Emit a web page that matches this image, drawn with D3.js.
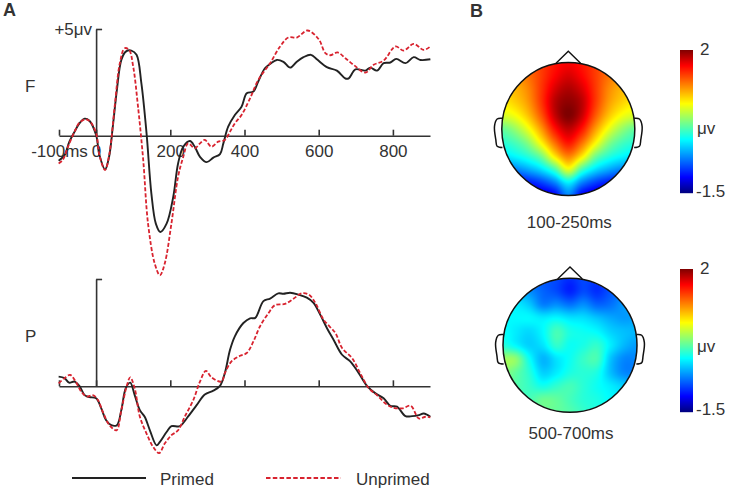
<!DOCTYPE html>
<html><head><meta charset="utf-8">
<script src="https://cdnjs.cloudflare.com/ajax/libs/d3/7.8.5/d3.min.js"></script>
<style>html,body{margin:0;background:#fff}svg{display:block}text{font-family:"Liberation Sans",Arial,sans-serif;fill:#333}</style>
</head><body><svg id="c" width="729" height="492"></svg>
<script>
const fPrimedT=[-101,-85,-72,-58,-45,-31,-18,0,9,24,35,45,56,68,80,95,109,122,136,149,161,173,190,208,221,235,253,266,280,298,316,334,343,356,374,392,406,424,437,455,469,487,505,523,541,559,579,595,622,649,672,681,699,726,739,757,775,793,809,834,856,874,901];
const fPrimedV=[-1.17,-.91,-.28,.19,.58,.8,.7,.03,-.91,-1.58,-.99,.42,2.14,3.55,3.94,3.99,3.79,2.46,.11,-2.71,-4.12,-4.51,-4.12,-2.86,-1.3,-.52,-.25,-.52,-.99,-1.24,-1.03,-.86,-.36,.42,.97,1.36,1.99,2.07,2.54,3.16,3.36,3.55,3.46,3.19,3.47,3.68,3.79,3.58,3.21,3.05,2.68,2.69,3.11,3.05,3.19,3.05,3.4,3.43,3.6,3.4,3.68,3.55,3.58];
const fUnprimedT=[-101,-90,-76,-58,-45,-28,-16,0,9,24,36,50,64,77,89,100,113,127,140,158,172,185,203,221,235,248,266,280,293,311,329,347,361,374,392,415,437,469,496,518,541,570,600,618,631,651,672,694,726,748,775,807,829,856,883,901];
const fUnprimedV=[-1.3,-1.14,-.52,.19,.61,.77,.66,.11,-.91,-1.61,-.83,1.36,3.4,4.1,4.02,3.24,1.36,-1.14,-4.12,-5.99,-6.54,-5.99,-4.12,-1.92,-.99,-.36,-.59,-.36,-.2,-.52,-.28,-.2,.19,.58,.97,1.75,2.61,3.4,4.18,4.6,4.6,4.93,4.52,3.87,3.77,3.9,3.63,3.32,2.96,3.32,3.52,4.18,3.99,4.3,4.02,4.18];
const pPrimedT=[-101,-85,-73,-58,-45,-31,-18,0,14,27,41,56,68,80,92,104,118,131,145,163,172,190,203,226,244,271,293,316,334,347,361,374,397,415,429,451,469,491,505,523,546,568,586,604,622,640,663,685,708,730,753,775,793,811,834,852,870,883,901];
const pPrimedV=[.45,.38,.17,.22,.02,-.41,-.5,-.56,-1.03,-1.58,-1.81,-1.81,-1.11,-.09,.17,-.41,-1.11,-1.42,-2.05,-2.75,-2.59,-2.13,-1.86,-1.86,-1.5,-.88,-.38,-.2,.02,.61,1.7,2.33,2.95,3.17,3.19,3.97,4.09,4.33,4.31,4.36,4.27,4.13,3.89,3.34,2.72,2.17,1.47,1.16,.61,.02,-.33,-.56,-.91,-.95,-1.39,-1.39,-1.34,-1.27,-1.42];
const pUnprimedT=[-101,-85,-70,-55,-40,-25,-9,5,18,36,55,68,82,92,104,118,136,154,170,185,203,221,239,262,280,296,311,338,347,365,388,406,424,442,465,482,509,532,554,573,591,613,645,663,690,712,735,757,780,798,825,848,870,888,901];
const pUnprimedV=[.14,.38,.53,.22,-.25,-.48,-.41,-.64,-1.19,-1.81,-2.05,-1.11,-.02,.42,-.09,-1.42,-2.2,-2.83,-3.11,-2.67,-2.28,-2.05,-1.42,-.64,.22,.72,.42,.22,.61,1.16,1.42,1.55,2.09,2.8,3.42,3.78,3.84,4.08,4.33,4.28,3.89,3.11,2.48,1.78,1.31,.61,-.09,-.41,-.8,-.98,-1.03,-.91,-1.5,-1.42,-1.45];
const xTicks=[-100,0,200,400,600,800];
const xTickLabels=["-100ms","0","200","400","600","800"];
const legendLabels=["Primed","Unprimed"];
const jetStops=[0,.11,.375,.625,.89,1];
const jetColors=["#00007f","#0000ff","#00ffff","#ffff00","#ff0000","#7f0000"];
const mapEarly=[
[1.1,1.15,1.25,1.4,1.55,1.62,1.55,1.4,1.25,1.15,1.1],
[1.0,1.05,1.2,1.4,1.6,1.72,1.6,1.4,1.2,1.05,1.0],
[.9,.95,1.12,1.42,1.72,1.85,1.72,1.42,1.12,.95,.9],
[.75,.85,1.05,1.42,1.82,1.95,1.82,1.42,1.05,.85,.75],
[.55,.65,.9,1.3,1.78,2.0,1.78,1.3,.9,.65,.55],
[.15,.32,.62,1.05,1.55,1.8,1.55,1.05,.62,.32,.15],
[-.05,.05,.28,.72,1.22,1.55,1.22,.72,.28,.05,-.05],
[-.3,-.2,-.05,.22,.78,1.15,.78,.22,-.05,-.2,-.3],
[-.75,-.65,-.5,-.3,.05,.6,.05,-.3,-.5,-.65,-.75],
[-1.15,-1.15,-1.05,-.9,-.65,-.25,-.65,-.9,-1.05,-1.15,-1.15],
[-1.35,-1.35,-1.35,-1.3,-1.15,-.65,-1.15,-1.3,-1.35,-1.35,-1.35]];
const mapLate=[
[-.7,-.7,-.75,-.8,-.85,-.95,-.85,-.9,-.8,-.7,-.7],
[-.4,-.45,-.6,-.75,-.85,-1.0,-.85,-.95,-.8,-.65,-.55],
[-.2,-.25,-.38,-.65,-.6,-.7,-.6,-.75,-.7,-.55,-.5],
[-.2,-.2,-.2,-.25,-.2,-.28,-.3,-.4,-.5,-.55,-.5],
[-.15,-.25,-.32,-.2,.05,-.1,-.15,-.2,-.35,-.42,-.45],
[-.05,-.2,-.35,-.28,-.02,-.15,-.1,-.02,-.25,-.45,-.55],
[.35,.3,-.15,-.45,-.28,-.15,.0,.05,-.4,-.62,-.62],
[.3,.15,-.05,-.35,-.25,-.1,-.05,-.1,-.42,-.62,-.62],
[.2,.1,.0,-.12,-.02,.05,-.05,-.15,-.25,-.35,-.4],
[.1,.05,.05,.18,.15,.05,-.05,-.1,-.2,-.25,-.3],
[.05,.05,.05,.15,.15,.1,.0,-.1,-.15,-.2,-.2]];

const svg=d3.select("#c");
const BLACK="#222",RED="#d8232f",AX="#333",FS=17;
const x=d3.scaleLinear().domain([-100,900]).range([59,430]);
const line=(y)=>d3.line().x(d=>x(d[0])).y(d=>y(d[1])).curve(d3.curveCatmullRom.alpha(.5));
function clipT(t,v){return d3.zip(t,v);}

function panel(y0,y5,prT,prV,unT,unV,withLabels,topLabel){
  const y=d3.scaleLinear().domain([0,5]).range([y0,y5]);
  const g=svg.append("g");
  const ax=g.append("g").attr("transform",`translate(0,${y0})`)
    .call(d3.axisBottom(x).tickValues(xTicks).tickSizeInner(-6).tickSizeOuter(0)
      .tickFormat((d,i)=>withLabels?xTickLabels[i]:""));
  ax.selectAll("text").attr("font-size",FS).attr("y",21).attr("dy",0).style("font-family",'"Liberation Sans"');
  const ay=g.append("g").attr("transform",`translate(${x(0)},0)`)
    .call(d3.axisLeft(y).tickValues([5]).tickSizeInner(-6).tickSizeOuter(0).tickPadding(4).tickFormat(()=>topLabel));
  ay.selectAll("text").attr("font-size",FS).attr("x",-4).attr("dy",".33em").style("font-family",'"Liberation Sans"');
  g.selectAll(".domain,.tick line").attr("stroke",AX).attr("stroke-width",1.6);
  g.append("path").attr("d",line(y)(clipT(prT,prV))).attr("fill","none").attr("stroke",BLACK).attr("stroke-width",1.9);
  g.append("path").attr("d",line(y)(clipT(unT,unV))).attr("fill","none").attr("stroke",RED).attr("stroke-width",1.8).attr("stroke-dasharray","4,2");
}
panel(135.7,29,fPrimedT,fPrimedV,fUnprimedT,fUnprimedV,true,"+5μv");
panel(386.3,279,pPrimedT,pPrimedV,pUnprimedT,pUnprimedV,false,"");

const label=(t,px,py,o={})=>svg.append("text").text(t).attr("x",px).attr("y",py).attr("font-size",o.fs||FS)
  .attr("text-anchor",o.anchor||"start").attr("font-weight",o.bold?"bold":"normal");
label("A",3,16,{bold:1,fs:18});
label("B",470,16.5,{bold:1,fs:18});
label("F",25,92);
label("P",25,342);

svg.append("line").attr("x1",72).attr("x2",146).attr("y1",478).attr("y2",478).attr("stroke",BLACK).attr("stroke-width",1.9);
svg.append("line").attr("x1",266).attr("x2",341).attr("y1",478).attr("y2",478).attr("stroke",RED).attr("stroke-width",1.8).attr("stroke-dasharray","4.5,2.3");
label(legendLabels[0],160,485);
label(legendLabels[1],356,485);

const jet=d3.scaleLinear().domain(jetStops).range(jetColors).clamp(true);
const norm=d3.scaleLinear().domain([-1.5,2]).range([0,1]).clamp(true);
const color=v=>jet(norm(v));

function cr(a,b,c,d,t){return .5*(2*b+(c-a)*t+(2*a-5*b+4*c-d)*t*t+(3*b-a-3*c+d)*t*t*t);}
function sample(grid,gx,gy){
  const n=grid.length,m=grid[0].length;
  const ix=Math.min(Math.floor(gx),m-2),iy=Math.min(Math.floor(gy),n-2),tx=gx-ix,ty=gy-iy;
  const at=(r,c)=>grid[Math.max(0,Math.min(n-1,r))][Math.max(0,Math.min(m-1,c))];
  const row=r=>cr(at(r,ix-1),at(r,ix),at(r,ix+1),at(r,ix+2),tx);
  return cr(row(iy-1),row(iy),row(iy+1),row(iy+2),ty);
}
const noseU=[[-.185,-.99],[0,-1.17],[.185,-.99]];
const earU=[[-.99,-.16],[-1.07,-.15],[-1.11,-.04],[-1.09,.16],[-1.07,.26],[-.99,.28]];

function topo(cx,cy,r,grid,id,title,titleY,barTop,barBot,labY){
  const size=Math.ceil(r*2)+2,cv=document.createElement("canvas");cv.width=cv.height=size;
  const ctx=cv.getContext("2d"),img=ctx.createImageData(size,size);
  const toGrid=d3.scaleLinear().domain([0,size]).range([0,grid.length-1]);
  for(let j=0;j<size;j++)for(let i=0;i<size;i++){
    const c=d3.rgb(color(sample(grid,toGrid(i+.5),toGrid(j+.5)))),k=4*(j*size+i);
    img.data[k]=c.r;img.data[k+1]=c.g;img.data[k+2]=c.b;img.data[k+3]=255;
  }
  ctx.putImageData(img,0,0);
  svg.append("clipPath").attr("id",id).append("circle").attr("cx",cx).attr("cy",cy).attr("r",r);
  svg.append("image").attr("href",cv.toDataURL()).attr("x",cx-size/2).attr("y",cy-size/2).attr("width",size).attr("height",size).attr("clip-path",`url(#${id})`);
  svg.append("circle").attr("cx",cx).attr("cy",cy).attr("r",r).attr("fill","none").attr("stroke","#111").attr("stroke-width",1.5);
  const sx=d3.scaleLinear().domain([-1,1]).range([cx-r,cx+r]),sy=d3.scaleLinear().domain([-1,1]).range([cy-r,cy+r]);
  const pl=d3.line().x(d=>sx(d[0])).y(d=>sy(d[1]));
  svg.append("path").attr("d",pl(noseU)).attr("fill","none").attr("stroke","#111").attr("stroke-width",1.4);
  const earL=d3.line().x(d=>sx(d[0])).y(d=>sy(d[1])).curve(d3.curveCatmullRom);
  svg.append("path").attr("d",earL(earU)).attr("fill","none").attr("stroke","#111").attr("stroke-width",1.5);
  svg.append("path").attr("d",earL(earU.map(d=>[-d[0],d[1]]))).attr("fill","none").attr("stroke","#111").attr("stroke-width",1.5);
  label(title,cx+1,titleY,{anchor:"middle"});
  const by=d3.scaleLinear().domain([-1.5,2]).range([barBot,barTop]);
  const levels=d3.range(barTop,barBot,1);
  svg.append("g").selectAll("rect").data(levels).join("rect").attr("x",680).attr("width",13).attr("y",d=>d).attr("height",1.2)
    .attr("fill",d=>color(by.invert(d+.5)));
  label("2",700,labY[0]);label("μv",697,labY[1]);label("-1.5",696,labY[2]);
}
topo(568.3,129,66.5,mapEarly,"h1","100-250ms",228,50,193,[55,134,197]);
topo(570,345.3,67,mapLate,"h2","500-700ms",439,269,412,[274,352,415]);
</script></body></html>
